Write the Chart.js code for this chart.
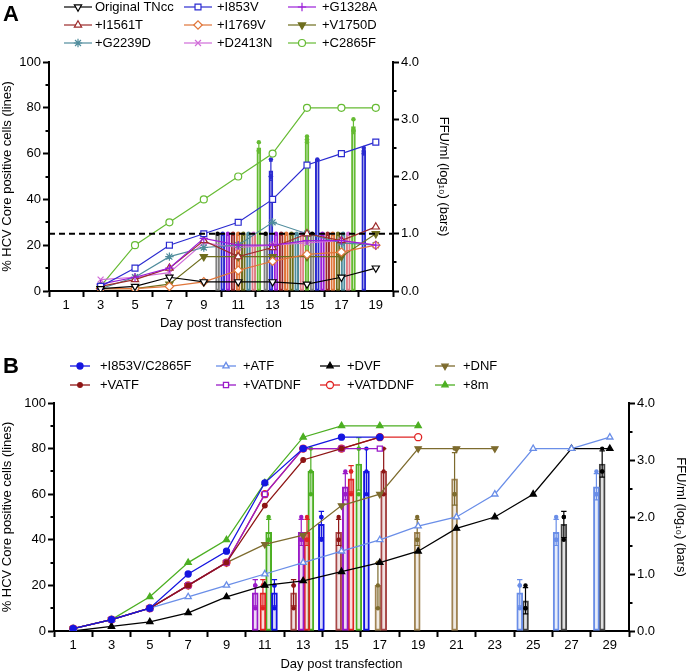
<!DOCTYPE html>
<html><head><meta charset="utf-8">
<script src="https://cdn.jsdelivr.net/npm/chart.js@4.4.1/dist/chart.umd.min.js"></script>
<style>
html,body{margin:0;padding:0;background:#fff;}
#wrap{position:relative;width:688px;height:672px;overflow:hidden;}
#cA{position:absolute;left:0;top:0;}
#cB{position:absolute;left:0;top:331px;}
</style></head><body>
<div id="wrap"><canvas id="cA" width="688" height="331"></canvas><canvas id="cB" width="688" height="341"></canvas></div>
<script>
// ================= DATA : panel A =================
const daysA = [3, 5, 7, 9, 11, 13, 15, 17, 19];
const xTicksA = [1, 3, 5, 7, 9, 11, 13, 15, 17, 19];
const yTicksLeftMinor = [10, 30, 50, 70, 90];
const yTicksRightMinor = [0.5, 1.5, 2.5, 3.5];
const detectionLimitPct = 25;

// % HCV Core positive cells (lines)
const lineOrigTNcc = [1, 2, 6, 4, 4, 4, 3, 6, 10];
const lineI853V   = [2, 10, 20, 25, 30, 40, 55, 60, 65];
const lineG1328A  = [3, 6, 10, 23, 20, 20, 22, 22, 20];
const lineI1561T  = [2, 5, 10, 22, 15, 19, 25, 22, 28];
const lineI1769V  = [1, 1, 2, 4, 9, 13, 16, 17, 20];
const lineV1750D  = [1, 1, 3, 15, 15, 15, 15, 15, 25];
const lineG2239D  = [1, 6, 15, 19, 20, 30, 25, 21, 20];
const lineD2413N  = [5, 6, 8, 21, 19, 20, 21, 22, 20];
const lineC2865F  = [2, 20, 30, 40, 50, 60, 80, 80, 80];

// FFU/ml (log10) (bars), one value per bar group
const barGroupDaysA = [11, 13.8, 16.5, 19.2];
const barOrigTNcc = [1, 1, 1, null];
const barI853V    = [1, 2.1, 2.3, 2.45];
const barG1328A   = [1, 1, 1, null];
const barI1561T   = [1, 1, 1, null];
const barI1769V   = [1, 1, 1, null];
const barV1750D   = [1, 1, 1, null];
const barG2239D   = [1, 1, 1, null];
const barD2413N   = [1, 1, 1, null];
const barC2865F   = [2.5, 2.65, 2.87, null];
const sdI853V  = [0, 0.17, 0, 0.05];
const sdC2865F = [0.09, 0.05, 0.12, null];
const repsI853V  = [[1], [2.3, 2.0, 2.0], [2.3], [2.5, 2.45, 2.4]];
const repsC2865F = [[2.6, 2.45, 2.45], [2.7, 2.65, 2.6], [3.0, 2.8, 2.8]];

// ================= DATA : panel B =================
const daysB = [1, 3, 5, 7, 9, 11, 13, 15, 17, 19, 21, 23, 25, 27, 29];
const xTicksB = [1, 3, 5, 7, 9, 11, 13, 15, 17, 19, 21, 23, 25, 27, 29];

const lineI853VC2865F = [1, 5, 10, 25, 35, 65, 80, 85, 85];
const lineVATF    = [1, 5, 10, 20, 30, 55, 75, 80, 85];
const lineATF     = [1, 5, 10, 15, 20, 25, 30, 35, 40, 46, 50, 60, 80, 80, 85];
const lineVATDNF  = [1, 5, 10, 20, 30, 60, 80, 80, 80];
const lineDVF     = [0, 2, 4, 8, 15, 20, 22, 26, 30, 35, 45, 50, 60, 80, 80];
const lineVATDDNF = [1, 5, 10, 20, 30, 60, 80, 80, 85, 85];
const lineDNF     = [1, 5, 10, 20, 30, 38, 42, 55, 60, 80, 80, 80];
const line8m      = [1, 5, 15, 30, 40, 65, 85, 90, 90, 90];

// bars: day on the x axis where each bar stands, mean, SD, replicate values
const barDaysVATDNF = [10.5, 12.9, 15.2];
const barVATDNF = [0.67, 1.73, 2.53];
const sdVATDNF = [0.23, 0.23, 0.23];
const repsVATDNF = [[0.8, 0.8, 0.4], [2.0, 1.6, 1.6], [2.8, 2.4, 2.4]];

const barDaysVATDDNF = [10.9, 13.2, 15.5];
const barVATDDNF = [0.67, 1.73, 2.67];
const sdVATDDNF = [0.23, 0.23, 0.23];
const repsVATDDNF = [[0.8, 0.8, 0.4], [2.0, 1.6, 1.6], [2.8, 2.8, 2.4]];

const barDays8m = [11.2, 13.4, 15.9];
const bar8m = [1.73, 2.8, 2.93];
const sd8m = [0.23, 0.4, 0.46];
const reps8m = [[2.0, 1.6, 1.6], [3.2, 2.8, 2.4], [3.2, 3.2, 2.4]];

const barDaysI853VC2865F = [11.5, 13.95, 16.3];
const barI853VC2865F = [0.67, 1.87, 2.8];
const sdI853VC2865F = [0.23, 0.23, 0.4];
const repsI853VC2865F = [[0.8, 0.8, 0.4], [2.0, 2.0, 1.6], [3.2, 2.8, 2.4]];

const barDaysVATF = [12.5, 14.85, 17.2];
const barVATF = [0.67, 1.73, 2.8];
const sdVATF = [0.23, 0.23, 0.4];
const repsVATF = [[0.8, 0.8, 0.4], [2.0, 1.6, 1.6], [3.2, 2.8, 2.4]];

const barDaysDNF = [16.9, 18.95, 20.9];
const barDNF = [0.8, 1.73, 2.67];
const sdDNF = [0.4, 0.23, 0.46];
const repsDNF = [[1.2, 0.8, 0.4], [2.0, 1.6, 1.6], [3.2, 2.4, 2.4]];

const barDaysATF = [24.3, 26.2, 28.3];
const barATF = [0.67, 1.73, 2.53];
const sdATF = [0.23, 0.23, 0.23];
const repsATF = [[0.8, 0.8, 0.4], [2.0, 1.6, 1.6], [2.8, 2.4, 2.4]];

const barDaysDVF = [24.6, 26.6, 28.6];
const barDVF = [0.53, 1.87, 2.93];
const sdDVF = [0.23, 0.23, 0.23];
const repsDVF = [[0.8, 0.4, 0.4], [2.0, 2.0, 1.6], [3.2, 2.8, 2.8]];

// ================= rendering =================
const F = '"Liberation Sans", Arial, Helvetica, sans-serif';
Chart.defaults.font.family = F;
Chart.defaults.font.size = 13;
Chart.defaults.color = '#000';
Chart.defaults.animation = false;

function pts(days, vals) {
  const out = [];
  vals.forEach((v, i) => { if (v != null) out.push({x: days[i], y: v}); });
  return out;
}
function rgba(hex, a) {
  const n = parseInt(hex.slice(1), 16);
  return `rgba(${(n >> 16) & 255},${(n >> 8) & 255},${n & 255},${a})`;
}
function lineDS(s, r, bw) {
  return {
    type: 'line', label: s.label, data: pts(s.days, s.vals), yAxisID: 'y', order: 1,
    borderColor: s.color, borderWidth: bw, tension: 0, fill: false,
    pointStyle: s.style, pointRotation: s.rot || 0, pointRadius: s.r || r,
    pointBorderColor: s.color, pointBorderWidth: bw,
    pointBackgroundColor: s.open ? '#ffffff' : s.color, backgroundColor: s.open ? '#ffffff' : s.color
  };
}
function barDS(s, xs, vals, sds, reps, thick) {
  const data = [], errs = [], rp = [];
  vals.forEach((v, i) => {
    if (v == null) return;
    data.push({x: xs[i], y: v});
    errs.push(sds ? (sds[i] || 0) : 0);
    rp.push(reps ? reps[i] : [v]);
  });
  return {
    type: 'bar', label: s.label + ' (bars)', data, yAxisID: 'y2', order: 2, grouped: false,
    barThickness: thick, borderWidth: 1.3, borderColor: s.barColor || s.color,
    backgroundColor: rgba(s.barColor || s.color, 0.16), borderSkipped: false,
    errs, reps: rp, dotColor: s.color
  };
}

const errorDots = {
  id: 'errorDots',
  afterDatasetDraw(chart, args) {
    const ds = chart.data.datasets[args.index];
    if (!ds.errs) return;
    const ys = chart.scales[ds.yAxisID];
    const ctx = chart.ctx;
    ctx.save();
    args.meta.data.forEach((el, i) => {
      const m = ds.data[i].y, e = ds.errs[i];
      const cw = el.width * 0.45;
      ctx.strokeStyle = ds.dotColor; ctx.lineWidth = 1.2;
      if (e > 0) {
        const yt = ys.getPixelForValue(m + e), yb = ys.getPixelForValue(m - e);
        ctx.beginPath();
        ctx.moveTo(el.x, yt); ctx.lineTo(el.x, yb);
        ctx.moveTo(el.x - cw, yt); ctx.lineTo(el.x + cw, yt);
        ctx.moveTo(el.x - cw, yb); ctx.lineTo(el.x + cw, yb);
        ctx.stroke();
      }
      ctx.fillStyle = ds.dotColor;
      ds.reps[i].forEach(v => {
        ctx.beginPath();
        ctx.arc(el.x, ys.getPixelForValue(v), 2.2, 0, Math.PI * 2);
        ctx.fill();
      });
    });
    ctx.restore();
  }
};

const minorTicks = {
  id: 'minorTicks',
  afterDraw(chart, args, opts) {
    const ctx = chart.ctx; ctx.save();
    ctx.strokeStyle = '#000'; ctx.lineWidth = 2;
    (opts.list || []).forEach(([id, vals]) => {
      const s = chart.scales[id];
      vals.forEach(v => {
        const y = Math.round(s.getPixelForValue(v));
        ctx.beginPath();
        if (s.position === 'left') { ctx.moveTo(s.right, y); ctx.lineTo(s.right - opts.len, y); }
        else { ctx.moveTo(s.left, y); ctx.lineTo(s.left + opts.len, y); }
        ctx.stroke();
      });
    });
    ctx.restore();
  }
};

const gridLegend = {
  id: 'gridLegend',
  afterDraw(chart, args, o) {
    const ctx = chart.ctx; ctx.save();
    o.items.forEach(it => {
      const ds = chart.data.datasets.find(d => d.type === 'line' && d.label === it[0]);
      const x = o.cols[it[1]], y = o.rows[it[2]];
      ctx.setLineDash([]);
      ctx.strokeStyle = ds.borderColor; ctx.lineWidth = ds.borderWidth;
      ctx.beginPath(); ctx.moveTo(x - o.half, y); ctx.lineTo(x + o.half, y); ctx.stroke();
      ctx.fillStyle = ds.pointBackgroundColor; ctx.strokeStyle = ds.pointBorderColor;
      ctx.lineWidth = ds.pointBorderWidth;
      Chart.helpers.drawPoint(ctx, {pointStyle: ds.pointStyle, rotation: ds.pointRotation,
        radius: ds.pointRadius, borderWidth: ds.pointBorderWidth}, x, y);
      ctx.fillStyle = '#000'; ctx.font = '13px ' + F;
      ctx.textAlign = 'left'; ctx.textBaseline = 'middle';
      ctx.fillText(it[0], o.textX[it[1]], y + 0.5);
    });
    ctx.font = 'bold 22px ' + F; ctx.fillStyle = '#000';
    ctx.textAlign = 'left'; ctx.textBaseline = 'middle';
    ctx.fillText(o.letter, o.letterX, o.letterY);
    ctx.restore();
  }
};

function axes(xmin, xmax, xticks, xh, lw, rw) {
  const tk = {drawOnChartArea: false, drawTicks: true, tickLength: 6, tickWidth: 2, tickColor: '#000'};
  const bd = {display: true, color: '#000', width: 2};
  const tf = {size: 13};
  return {
    x: {type: 'linear', min: xmin, max: xmax, offset: false,
      afterBuildTicks: s => { s.ticks = xticks.map(v => ({value: v})); },
      grid: tk, border: bd, ticks: {font: tf, padding: 1, maxRotation: 0, autoSkip: false},
      title: {display: true, text: 'Day post transfection', font: tf, padding: 0},
      afterFit: s => { s.height = xh; }},
    y: {type: 'linear', position: 'left', min: 0, max: 100,
      grid: tk, border: bd, ticks: {stepSize: 20, font: tf, padding: 2},
      title: {display: true, text: '% HCV Core positive cells (lines)', font: tf, padding: 0},
      afterFit: s => { s.width = lw; }},
    y2: {type: 'linear', position: 'right', min: 0, max: 4,
      grid: tk, border: bd, ticks: {stepSize: 1, font: tf, padding: 2, callback: v => v.toFixed(1)},
      title: {display: true, text: 'FFU/ml (log\u2081\u2080) (bars)', font: tf, padding: 0},
      afterFit: s => { s.width = rw; }}
  };
}

// ---------- panel A ----------
const seriesA = [
  {label: 'Original TNcc', color: '#000000', barColor: '#808080', vals: lineOrigTNcc, bar: barOrigTNcc, style: 'triangle', rot: 180, open: true},
  {label: '+I853V', color: '#2B2BD0', vals: lineI853V, bar: barI853V, sd: sdI853V, reps: repsI853V, style: 'rect', open: true},
  {label: '+G1328A', color: '#9A1FD8', vals: lineG1328A, bar: barG1328A, style: 'cross'},
  {label: '+I1561T', color: '#9C2B2B', vals: lineI1561T, bar: barI1561T, style: 'triangle', open: true},
  {label: '+I1769V', color: '#E0763A', vals: lineI1769V, bar: barI1769V, style: 'rectRot', open: true},
  {label: '+V1750D', color: '#6E6E1E', vals: lineV1750D, bar: barV1750D, style: 'triangle', rot: 180},
  {label: '+G2239D', color: '#4F8C9C', vals: lineG2239D, bar: barG2239D, style: 'star'},
  {label: '+D2413N', color: '#D06CD8', barColor: '#E07E86', vals: lineD2413N, bar: barD2413N, style: 'crossRot'},
  {label: '+C2865F', color: '#66BB33', vals: lineC2865F, bar: barC2865F, sd: sdC2865F, reps: repsC2865F, style: 'circle', open: true, r: 3.5}
];
const slotA = 0.3;
const dsA = [];
seriesA.forEach((s, k) => {
  s.days = daysA;
  const xs = barGroupDaysA.map(d => d + (k - 4) * slotA);
  dsA.push(barDS(s, xs, s.bar, s.sd, s.reps, 4));
});
seriesA.forEach(s => dsA.push(lineDS(s, 4.2, 1.2)));
dsA.push({type: 'line', label: 'LOD', data: [{x: 0, y: detectionLimitPct}, {x: 20, y: detectionLimitPct}],
  yAxisID: 'y', order: 0, borderColor: '#000', borderWidth: 2, borderDash: [6, 4], pointRadius: 0});

new Chart(document.getElementById('cA'), {
  type: 'line',
  data: {datasets: dsA},
  options: {
    responsive: false, animation: false,
    layout: {padding: {top: 62, left: 0, right: 237, bottom: 0}},
    scales: axes(0, 20, xTicksA, 40, 49, 58),
    plugins: {
      legend: {display: false}, tooltip: {enabled: false},
      minorTicks: {len: 3.5, list: [['y', yTicksLeftMinor], ['y2', yTicksRightMinor]]},
      gridLegend: {
        letter: 'A', letterX: 3, letterY: 15, half: 14,
        cols: [78, 198, 302], textX: [95, 217, 322], rows: [7, 25, 43],
        items: [['Original TNcc', 0, 0], ['+I853V', 1, 0], ['+G1328A', 2, 0],
                ['+I1561T', 0, 1], ['+I1769V', 1, 1], ['+V1750D', 2, 1],
                ['+G2239D', 0, 2], ['+D2413N', 1, 2], ['+C2865F', 2, 2]]
      }
    }
  },
  plugins: [errorDots, minorTicks, gridLegend]
});

// ---------- panel B ----------
const seriesB = [
  {label: '+I853V/C2865F', color: '#1515E0', vals: lineI853VC2865F, style: 'circle', r: 3,
    bx: barDaysI853VC2865F, bar: barI853VC2865F, sd: sdI853VC2865F, reps: repsI853VC2865F},
  {label: '+VATF', color: '#8E1515', barColor: '#A84848', vals: lineVATF, style: 'circle', r: 2.3,
    bx: barDaysVATF, bar: barVATF, sd: sdVATF, reps: repsVATF},
  {label: '+ATF', color: '#6A8EE8', vals: lineATF, style: 'triangle', open: true,
    bx: barDaysATF, bar: barATF, sd: sdATF, reps: repsATF},
  {label: '+VATDNF', color: '#9A1BC8', vals: lineVATDNF, style: 'rect', open: true,
    bx: barDaysVATDNF, bar: barVATDNF, sd: sdVATDNF, reps: repsVATDNF},
  {label: '+DVF', color: '#000000', barColor: '#444444', vals: lineDVF, style: 'triangle',
    bx: barDaysDVF, bar: barDVF, sd: sdDVF, reps: repsDVF},
  {label: '+VATDDNF', color: '#E02424', vals: lineVATDDNF, style: 'circle', open: true, r: 3.5,
    bx: barDaysVATDDNF, bar: barVATDDNF, sd: sdVATDDNF, reps: repsVATDDNF},
  {label: '+DNF', color: '#7D6B2E', barColor: '#A08454', vals: lineDNF, style: 'triangle', rot: 180,
    bx: barDaysDNF, bar: barDNF, sd: sdDNF, reps: repsDNF},
  {label: '+8m', color: '#4CAF22', vals: line8m, style: 'triangle',
    bx: barDays8m, bar: bar8m, sd: sd8m, reps: reps8m}
];
const dsB = [];
seriesB.forEach(s => { s.days = daysB; dsB.push(barDS(s, s.bx, s.bar, s.sd, s.reps, 6)); });
seriesB.forEach(s => dsB.push(lineDS(s, 3.6, 1.3)));

new Chart(document.getElementById('cB'), {
  type: 'line',
  data: {datasets: dsB},
  options: {
    responsive: false, animation: false,
    layout: {padding: {top: 72, left: 0, right: 0, bottom: 0}},
    scales: axes(0, 30, xTicksB, 41, 54, 59),
    plugins: {
      legend: {display: false}, tooltip: {enabled: false},
      minorTicks: {len: 3.5, list: [['y', yTicksLeftMinor], ['y2', yTicksRightMinor]]},
      gridLegend: {
        letter: 'B', letterX: 3, letterY: 36, half: 10,
        cols: [80, 226, 330, 445], textX: [100, 243, 347, 463], rows: [35, 54],
        items: [['+I853V/C2865F', 0, 0], ['+ATF', 1, 0], ['+DVF', 2, 0], ['+DNF', 3, 0],
                ['+VATF', 0, 1], ['+VATDNF', 1, 1], ['+VATDDNF', 2, 1], ['+8m', 3, 1]]
      }
    }
  },
  plugins: [errorDots, minorTicks, gridLegend]
});
</script>
</body></html>
